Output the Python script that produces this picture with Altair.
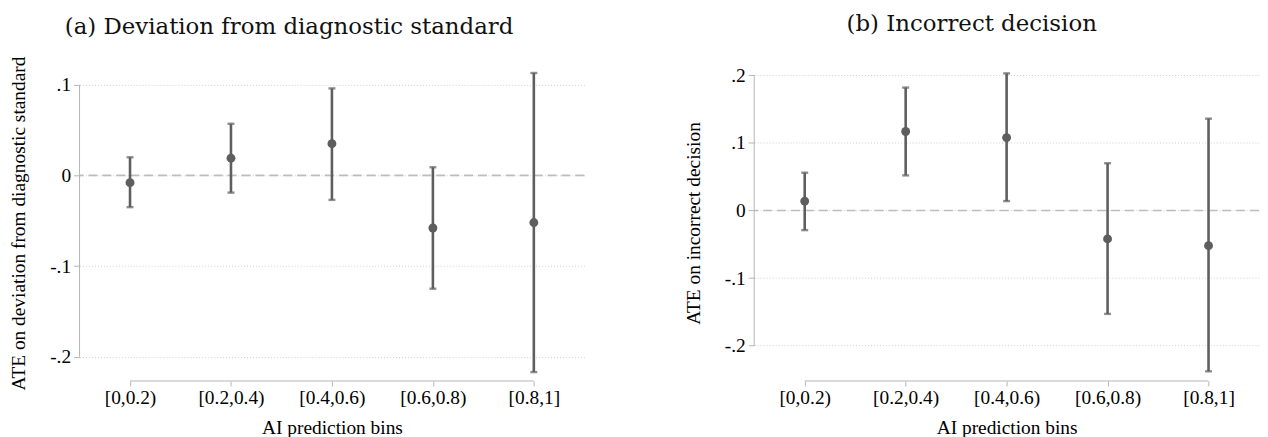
import altair as alt
import pandas as pd

# ---------------- data ----------------
bins = ["[0,0.2)", "[0.2,0.4)", "[0.4,0.6)", "[0.6,0.8)", "[0.8,1]"]
bin_pos = [1, 2, 3, 4, 5]

# (a) Deviation from diagnostic standard
dev_est = [-0.008, 0.019, 0.035, -0.058, -0.052]
dev_lo = [-0.035, -0.019, -0.027, -0.125, -0.217]
dev_hi = [0.020, 0.057, 0.096, 0.009, 0.113]

# (b) Incorrect decision
inc_est = [0.014, 0.117, 0.108, -0.042, -0.052]
inc_lo = [-0.029, 0.052, 0.014, -0.153, -0.238]
inc_hi = [0.056, 0.182, 0.203, 0.070, 0.136]

dev_ticks = [0.1, 0, -0.1, -0.2]
dev_tick_labels = [".1", "0", "-.1", "-.2"]
inc_ticks = [0.2, 0.1, 0, -0.1, -0.2]
inc_tick_labels = [".2", ".1", "0", "-.1", "-.2"]

# ---------------- style ----------------
W, H = 508, 318
MARK = "#5e5e5e"
AXC = "#b4b4b4"
GRID = "#cfcfcf"
ZERO = "#bdbdbd"
FONT = "Liberation Serif"
FS = 19.5


def js_list(vals):
    return "[" + ",".join(repr(v) if isinstance(v, str) else str(v) for v in vals) + "]"


x_label_expr = f"{js_list(bins)}[indexof({js_list(bin_pos)}, datum.value)]"


def panel(est, lo, hi, ticks, tick_labels, ydomain, ytitle, title, title_offset, title_dx):
    df = pd.DataFrame({"pos": bin_pos, "bin": bins, "est": est, "lo": lo, "hi": hi})
    y_label_expr = f"{js_list(tick_labels)}[indexof({js_list(ticks)}, datum.value)]"

    xscale = alt.Scale(domain=[0.5, 5.5], nice=False, zero=False)
    yscale = alt.Scale(domain=ydomain, nice=False, zero=False)
    xaxis = alt.Axis(values=bin_pos, labelExpr=x_label_expr, title="AI prediction bins",
                     grid=False, domain=False, tickSize=5, tickColor=AXC, tickWidth=1,
                     labelPadding=3, titlePadding=11, labelFlush=False)
    yaxis = alt.Axis(values=ticks, labelExpr=y_label_expr, title=ytitle,
                     grid=True, gridDash=[1, 2], gridColor=GRID, gridWidth=1,
                     domain=False, tickSize=6, tickColor=AXC, tickWidth=1,
                     labelPadding=3, titlePadding=21, labelFlush=False)

    def X(f):
        return alt.X(f"{f}:Q", scale=xscale, axis=xaxis)

    def Y(f):
        return alt.Y(f"{f}:Q", scale=yscale, axis=yaxis)

    base = alt.Chart(df)
    points = base.mark_circle(size=80, color=MARK, opacity=1).encode(x=X("pos"), y=Y("est"))

    bars = base.mark_rule(color=MARK, strokeWidth=2.6).encode(x=X("pos"), y=Y("lo"), y2="hi:Q")
    cap_lo = base.mark_tick(color=MARK, thickness=2.4, size=7, orient="horizontal").encode(
        x=X("pos"), y=Y("lo"))
    cap_hi = base.mark_tick(color=MARK, thickness=2.4, size=7, orient="horizontal").encode(
        x=X("pos"), y=Y("hi"))

    zero = alt.Chart(pd.DataFrame({"z": [0]})).mark_rule(
        color=ZERO, strokeWidth=1.6, strokeDash=[9, 5]).encode(y=Y("z"))

    yaxis_line = alt.Chart(pd.DataFrame({"a": [min(ticks)], "b": [max(ticks)]})).mark_rule(
        color=AXC, strokeWidth=1).encode(x=alt.value(0), y=Y("a"), y2="b:Q")
    xaxis_line = alt.Chart(pd.DataFrame({"a": [bin_pos[0]], "b": [bin_pos[-1]]})).mark_rule(
        color=AXC, strokeWidth=1).encode(y=alt.value(H), x=X("a"), x2="b:Q")

    return alt.layer(zero, yaxis_line, xaxis_line, bars, cap_lo, cap_hi, points).properties(
        width=W, height=H,
        title=alt.Title(title, font="DejaVu Serif", fontSize=23, fontWeight="normal",
                        color="#111111", anchor="middle", frame="bounds",
                        offset=title_offset, dx=title_dx),
    )


left = panel(dev_est, dev_lo, dev_hi, dev_ticks, dev_tick_labels, [-0.2268, 0.1218],
             "ATE on deviation from diagnostic standard", "(a) Deviation from diagnostic standard",
             17.0, -8)
right = panel(inc_est, inc_lo, inc_hi, inc_ticks, inc_tick_labels, [-0.2523, 0.2154],
              "ATE on incorrect decision", "(b) Incorrect decision", 29.0, 0)

chart = alt.hconcat(left, right, spacing=98).configure(
    padding={"left": 0, "top": 4, "right": 0, "bottom": 0},
    background="white",
).configure_view(stroke=None).configure_axis(
    labelFont=FONT, labelFontSize=FS, labelColor="#000000",
    titleFont=FONT, titleFontSize=FS, titleColor="#000000", titleFontWeight="normal",
)

chart.save("out.html", embed_options={"renderer": "svg", "actions": False})
